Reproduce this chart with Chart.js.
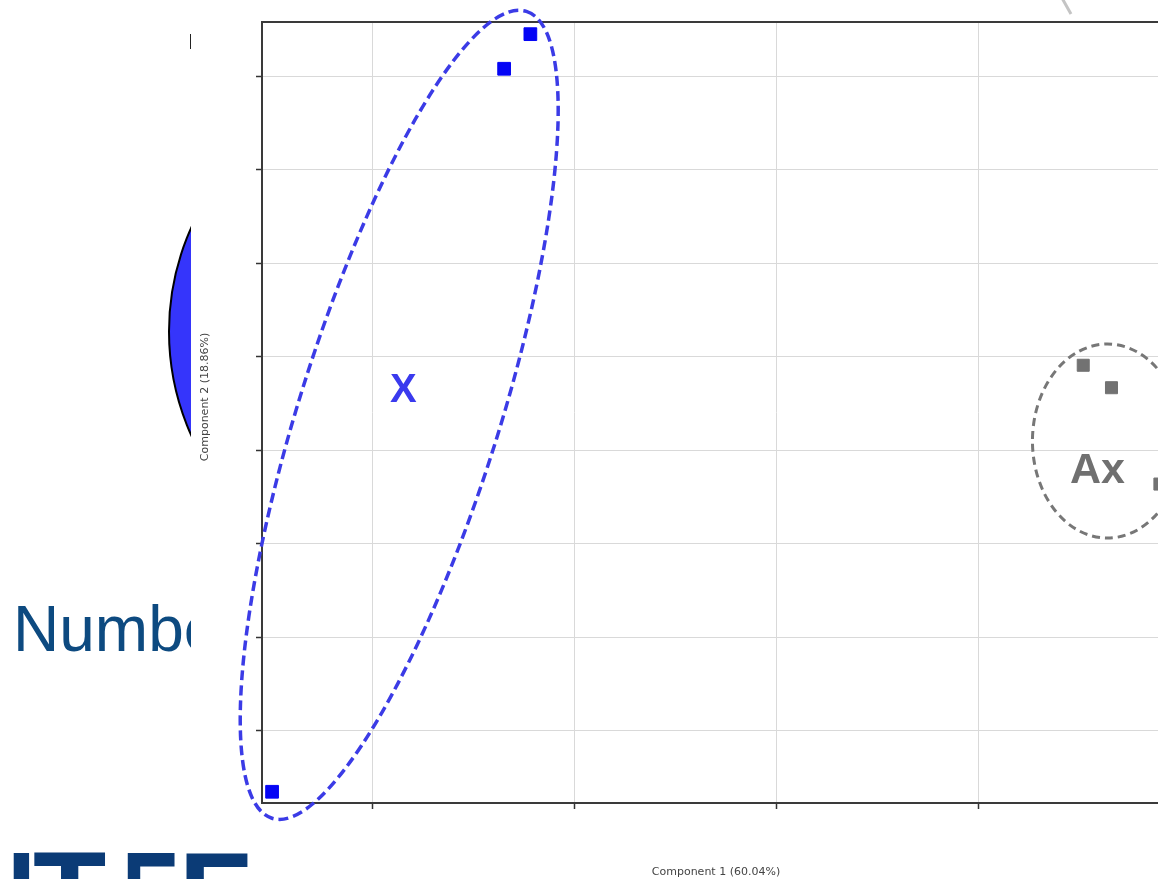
<!DOCTYPE html>
<html>
<head>
<meta charset="utf-8">
<script src="https://cdn.jsdelivr.net/npm/chart.js@4.4.1/dist/chart.umd.min.js"></script>
<style>
  html, body { margin: 0; padding: 0; background: #fff; }
  body { width: 1158px; height: 879px; overflow: hidden; position: relative; font-family: "Liberation Sans", Arial, sans-serif; }
  #slide { position: absolute; left: 0; top: 0; width: 191px; height: 879px; overflow: hidden; }
  #disc { position: absolute; left: 168px; top: 77px; width: 509px; height: 509px; border-radius: 50%;
          background: #3535fb; border: 2px solid #000; box-sizing: border-box; }
  #heading { position: absolute; left: 13px; top: 597px; font-size: 64px; line-height: 1; color: #0d4a80; white-space: nowrap; }
  #caret { position: absolute; left: 190px; top: 34px; width: 2px; height: 15px; background: #222; }
  #logo { position: absolute; left: -155px; top: 834px; font-size: 120px; font-weight: bold; line-height: 1;
          color: #0b3b76; letter-spacing: -4px; white-space: nowrap; }
  #logo .t { margin-right: 19.8px; }
  #logo .e { display: inline-block; transform: scaleX(0.72); transform-origin: left center; margin-right: -19.7px; }
  #plot { position: absolute; left: 190px; top: 0; }
</style>
</head>
<body>
<div id="slide">
  <div id="disc"></div>
  <div id="heading">Number</div>
  <div id="caret"></div>
</div>
<canvas id="plot" width="1000" height="879"></canvas>
<div id="logo">SIN<span class="t">T</span><span class="e">E</span>F</div>

<script>
// PCA scores, component 1 (x) and component 2 (y)
const groupX_pc1 = [-3.50, -2.35, -2.22];
const groupX_pc2 = [-4.65, 3.08, 3.45];
const groupAx_pc1 = [0.52, 0.66, 0.90];
const groupAx_pc2 = [-0.09, -0.33, -1.36];

const groupNames = ['X', 'Ax'];

// grid positions (no tick labels are printed)
const xTickValues = [-3, -2, -1, 0];
const yTickValues = [-4, -3, -2, -1, 0, 1, 2, 3];

const axisTitleX = 'Component 1 (60.04%)';
const axisTitleY = 'Component 2 (18.86%)';

// dashed outlines around each group: centre in data units, radii in pixels
const clusterOutlines = [
  { cx: -2.87, cy: -0.62, rx: 423, ry: 100, rot: -72.5, color: '#3b3be6', width: 3.5, dash: [10, 5] },
  { cx: 0.64, cy: -0.90, rx: 75, ry: 97, rot: 0, color: '#777777', width: 3, dash: [8, 5] }
];
// group name labels, anchored at the cap-height centre of the text
const clusterLabels = [
  { x: -2.85, y: -0.33, color: '#3a3aee', size: 40 },
  { x: 0.59, y: -1.18, color: '#707070', size: 43 }
];

const pts = (xs, ys) => xs.map((x, i) => ({ x, y: ys[i] }));

const overlay = {
  id: 'overlay',
  beforeDatasetsDraw(chart) {
    const { ctx, chartArea: a } = chart;
    ctx.save();
    ctx.strokeStyle = '#3a3a3a';
    ctx.lineWidth = 2;
    ctx.strokeRect(a.left, a.top, a.right - a.left, a.bottom - a.top);
    ctx.restore();
  },
  afterDraw(chart) {
    const { ctx, chartArea: a, scales: { x, y } } = chart;
    ctx.save();
    clusterOutlines.forEach(o => {
      ctx.beginPath();
      ctx.setLineDash(o.dash);
      ctx.strokeStyle = o.color;
      ctx.lineWidth = o.width;
      ctx.ellipse(x.getPixelForValue(o.cx), y.getPixelForValue(o.cy), o.rx, o.ry, o.rot * Math.PI / 180, 0, Math.PI * 2);
      ctx.stroke();
    });
    ctx.setLineDash([]);

    // edge of a neighbouring outline reaching in from above
    ctx.strokeStyle = '#c4c4c4';
    ctx.lineWidth = 3;
    ctx.beginPath();
    ctx.moveTo(872, -2);
    ctx.lineTo(881, 14);
    ctx.stroke();

    clusterLabels.forEach((l, i) => {
      ctx.font = 'bold ' + l.size + 'px "Liberation Sans", Arial, sans-serif';
      ctx.fillStyle = l.color;
      ctx.textAlign = 'center';
      ctx.textBaseline = 'alphabetic';
      ctx.fillText(groupNames[i], x.getPixelForValue(l.x), y.getPixelForValue(l.y) + l.size * 0.358);
    });

    ctx.font = '11px "DejaVu Sans", Verdana, sans-serif';
    ctx.fillStyle = '#444';
    ctx.textAlign = 'center';
    ctx.textBaseline = 'middle';
    ctx.fillText(axisTitleX, (a.left + a.right) / 2, a.bottom + 69);
    ctx.translate(a.left - 57, 397);
    ctx.rotate(-Math.PI / 2);
    ctx.fillText(axisTitleY, 0, 0);
    ctx.restore();
  }
};

const gridStyle = { color: '#d9d9d9', lineWidth: 1, drawTicks: true, tickLength: 6, tickColor: '#333', tickWidth: 1.5 };

new Chart(document.getElementById('plot'), {
  type: 'scatter',
  data: {
    datasets: [
      { label: groupNames[0], data: pts(groupX_pc1, groupX_pc2), pointStyle: 'rect', pointRadius: 9,
        backgroundColor: '#0505f5', borderColor: '#0505f5', borderWidth: 1 },
      { label: groupNames[1], data: pts(groupAx_pc1, groupAx_pc2), pointStyle: 'rect', pointRadius: 8.5,
        backgroundColor: '#727272', borderColor: '#727272', borderWidth: 1 }
    ]
  },
  options: {
    responsive: false,
    devicePixelRatio: 1,
    animation: false,
    layout: { padding: { left: 66, top: 22, right: 20, bottom: 70 } },
    plugins: { legend: { display: false }, tooltip: { enabled: false } },
    scales: {
      x: {
        type: 'linear', min: -3.55, max: 0.95,
        afterBuildTicks: s => { s.ticks = xTickValues.map(v => ({ value: v })); },
        ticks: { display: false },
        grid: gridStyle,
        border: { display: false }
      },
      y: {
        type: 'linear', min: -4.77, max: 3.58,
        afterBuildTicks: s => { s.ticks = yTickValues.map(v => ({ value: v })); },
        ticks: { display: false },
        grid: gridStyle,
        border: { display: false }
      }
    }
  },
  plugins: [overlay]
});
</script>
</body>
</html>
